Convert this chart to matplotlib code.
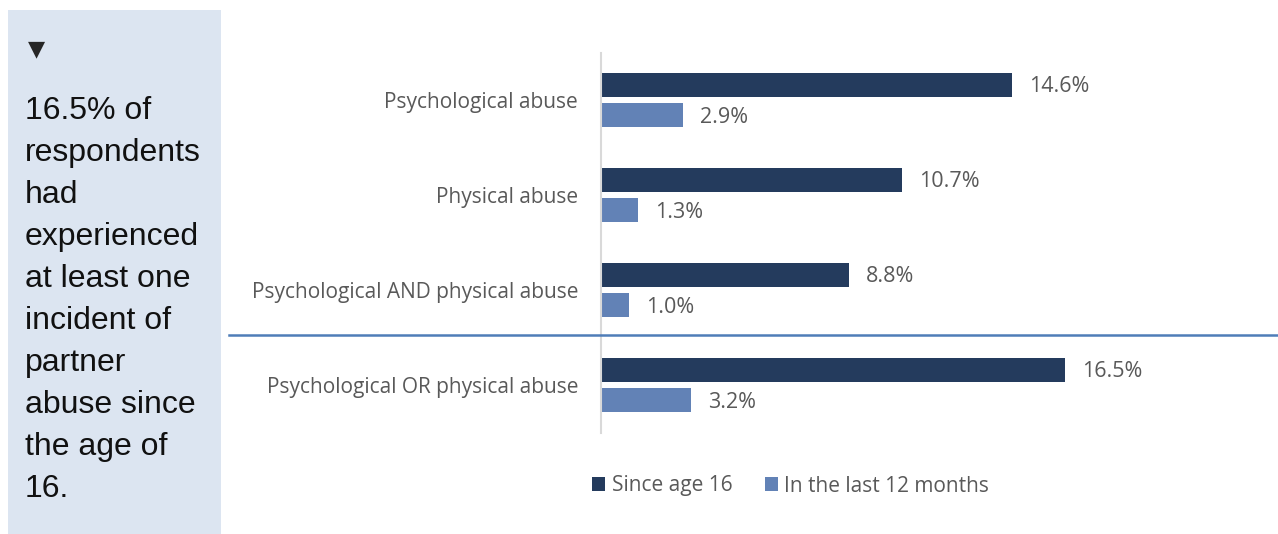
import matplotlib
matplotlib.use("Agg")
import matplotlib.pyplot as plt
from matplotlib.patches import Rectangle
from matplotlib.lines import Line2D
import numpy as np

categories = ["Psychological abuse", "Physical abuse",
              "Psychological AND physical abuse", "Psychological OR physical abuse"]
since_age_16 = [14.6, 10.7, 8.8, 16.5]
last_12_months = [2.9, 1.3, 1.0, 3.2]
series_names = ["Since age 16", "In the last 12 months"]
summary_lines = ["16.5% of", "respondents", "had", "experienced", "at least one",
                 "incident of", "partner", "abuse since", "the age of", "16."]

DARK = "#243B5D"
LIGHT = "#6282B6"
TEXT_GREY = "#595959"
LABEL_FONT = "Open Sans"

W, H = 1278, 534
fig = plt.figure(figsize=(W / 100, H / 100), dpi=100)
fig.patch.set_facecolor("white")

# side panel with summary statement
fig.add_artist(Rectangle((8 / W, 0), (221 - 8) / W, (534 - 10) / H,
                         transform=fig.transFigure, facecolor="#DCE5F1",
                         edgecolor="none", zorder=0))
fig.text(28 / W, 1 - 49 / H, "\u25BC", fontsize=16, color="#262626",
         ha="left", va="center", family="DejaVu Sans")
for i, line in enumerate(summary_lines):
    fig.text(25 / W, 1 - (111 + 42 * i) / H, line, fontsize=23,
             color="#111111", ha="left", va="center", family="Liberation Sans")

# bar chart
ax = fig.add_axes([601 / W, (534 - 432.5) / H, (W - 601) / W, 380 / H])
y = np.arange(len(categories))
bar_h = 0.253
off = 0.158
b1 = ax.barh(y - off, since_age_16, height=bar_h, color=DARK, label=series_names[0])
b2 = ax.barh(y + off, last_12_months, height=bar_h, color=LIGHT, label=series_names[1])
for bars, vals in ((b1, since_age_16), (b2, last_12_months)):
    for rect, v in zip(bars, vals):
        ax.annotate(f"{v:.1f}%", (rect.get_width(), rect.get_y() + rect.get_height() / 2),
                    xytext=(17, -2), textcoords="offset pixels", ha="left", va="center",
                    fontsize=15.5, color=TEXT_GREY, family=LABEL_FONT)

ax.set_xlim(0, (W - 601) / 28.15)
ax.set_ylim(len(categories) - 0.5, -0.5)
ax.set_yticks(y)
ax.set_yticklabels(categories, fontsize=15, color=TEXT_GREY, family=LABEL_FONT)
ax.tick_params(axis="y", length=0, pad=16.5)
ax.set_xticks([])
for s in ("top", "right", "bottom"):
    ax.spines[s].set_visible(False)
ax.spines["left"].set_color("#D9D9D9")
ax.spines["left"].set_linewidth(1.5)
ax.set_facecolor("none")

# separator between the component rows and the combined row
fig.add_artist(Line2D([229 / W, 1.0], [1 - 335 / H, 1 - 335 / H],
                      transform=fig.transFigure, color="#4F7DB8", linewidth=1.8))

leg = fig.legend(handles=[b1, b2], labels=series_names, loc="center",
                 bbox_to_anchor=(790.5 / W, 1 - 486 / H), ncol=2, frameon=False,
                 prop={"family": LABEL_FONT, "size": 15}, handlelength=0.65,
                 handleheight=0.65, handletextpad=0.3, columnspacing=1.55,
                 borderpad=0, borderaxespad=0)
for t in leg.get_texts():
    t.set_color(TEXT_GREY)

fig.savefig("out.png", dpi=100, facecolor="white")
